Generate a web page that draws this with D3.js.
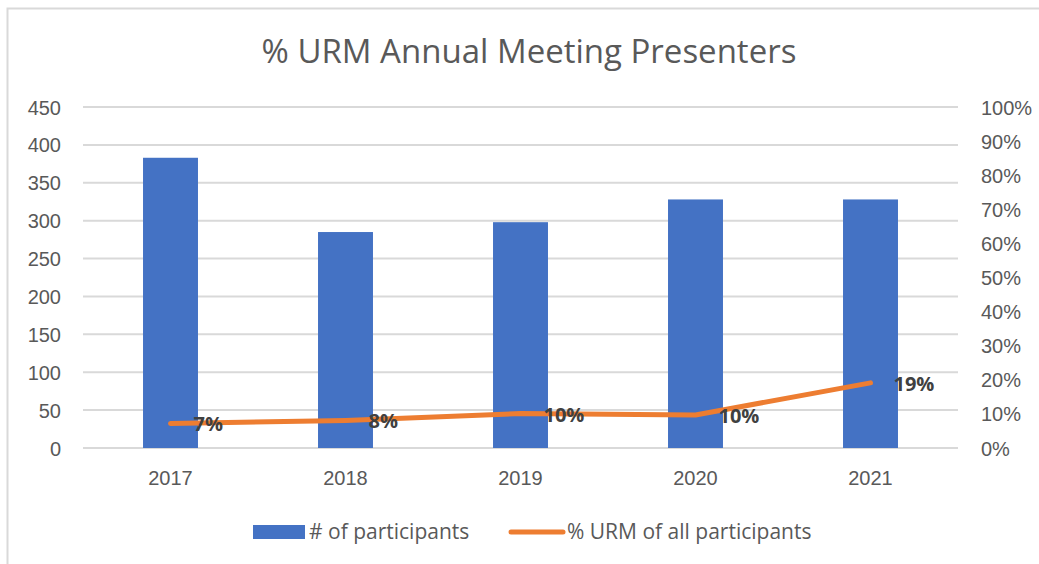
<!DOCTYPE html>
<html>
  <head>
    <meta charset="utf-8">
    <title>% URM Annual Meeting Presenters</title>
    <script src="https://cdn.jsdelivr.net/npm/d3@7"></script>
    <style>
      body { margin: 0; background: #fff; }
      svg { display: block; font-family: "Open Sans", "Noto Sans", sans-serif; }
      .axis text { fill: #595959; font-size: 20px; }
      .axis .domain { display: none; }
      .axis line { stroke: none; }
      .grid line { stroke: #d9d9d9; stroke-width: 2; }
      .label { fill: #404040; font-size: 20px; font-weight: bold; }
      .legend text { fill: #595959; font-size: 21px; }
    </style>
  </head>

  <body>
    <svg id="chart" width="1039" height="564"></svg>

    <script>
      // data
      years = ["2017", "2018", "2019", "2020", "2021"];
      participants = [383, 285, 298, 328, 328];
      urmShare = [0.072, 0.081, 0.101, 0.097, 0.191];
      urmLabels = ["7%", "8%", "10%", "10%", "19%"];
      leftTicks = [0, 50, 100, 150, 200, 250, 300, 350, 400, 450];
      rightTicks = [0, 0.1, 0.2, 0.3, 0.4, 0.5, 0.6, 0.7, 0.8, 0.9, 1];

      chart = d3.select("#chart");
      margin = { top: 107, right: 81, bottom: 116, left: 83 };
      width = 1039;
      height = 564;

      // outer border
      chart.append("rect")
        .attr("x", 7.5)
        .attr("y", 8.5)
        .attr("width", 1100)
        .attr("height", 700)
        .attr("fill", "none")
        .attr("stroke", "#d9d9d9")
        .attr("stroke-width", 2);

      chart.append("text")
        .attr("x", 529)
        .attr("y", 63)
        .attr("text-anchor", "middle")
        .attr("fill", "#595959")
        .style("font-size", "33px")
        .text("% URM Annual Meeting Presenters");

      x = d3.scaleBand()
        .domain(years)
        .range([margin.left, width - margin.right])
        .paddingInner(0.686)
        .paddingOuter(0.343);
      y = d3.scaleLinear()
        .domain([0, 450])
        .range([height - margin.bottom, margin.top]);
      y2 = d3.scaleLinear()
        .domain([0, 1])
        .range([height - margin.bottom, margin.top]);

      // gridlines
      chart.append("g")
        .attr("class", "grid")
        .selectAll("line")
          .data(leftTicks)
        .enter().append("line")
          .attr("x1", margin.left)
          .attr("x2", width - margin.right)
          .attr("y1", function(d) { return y(d); })
          .attr("y2", function(d) { return y(d); });

      // axes
      chart.append("g")
        .attr("class", "axis")
        .attr("transform", "translate(" + (margin.left - 22) + ", 0)")
        .call(d3.axisLeft(y).tickValues(leftTicks).tickSize(0).tickPadding(0))
        .selectAll("text")
          .attr("dy", "0.35em");
      chart.append("g")
        .attr("class", "axis")
        .attr("transform", "translate(" + (width - margin.right + 23) + ", 0)")
        .call(d3.axisRight(y2).tickValues(rightTicks).tickSize(0).tickPadding(0).tickFormat(d3.format(".0%")))
        .selectAll("text")
          .attr("dy", "0.35em");
      chart.append("g")
        .attr("class", "axis")
        .attr("transform", "translate(0, " + (height - margin.bottom + 19) + ")")
        .call(d3.axisBottom(x).tickSize(0).tickPadding(0))
        .selectAll("text")
          .attr("dy", "0.9em");

      // bars
      chart.append("g")
        .selectAll("rect")
          .data(participants)
        .enter().append("rect")
          .attr("x", function(d, i) { return x(years[i]); })
          .attr("width", x.bandwidth())
          .attr("y", function(d) { return y(d); })
          .attr("height", function(d) { return y(0) - y(d); })
          .attr("fill", "#4472c4");

      // line
      line = d3.line()
        .x(function(d, i) { return x(years[i]) + x.bandwidth() / 2; })
        .y(function(d) { return y2(d); });
      chart.append("path")
        .datum(urmShare)
        .attr("d", line)
        .attr("fill", "none")
        .attr("stroke", "#ed7d31")
        .attr("stroke-width", 5)
        .attr("stroke-linecap", "round")
        .attr("stroke-linejoin", "round");

      chart.append("g")
        .selectAll("text")
          .data(urmShare)
        .enter().append("text")
          .attr("class", "label")
          .attr("x", function(d, i) { return x(years[i]) + x.bandwidth() / 2 + 23; })
          .attr("y", function(d) { return y2(d); })
          .attr("dy", "0.4em")
          .text(function(d, i) { return urmLabels[i]; });

      // legend
      legend = chart.append("g").attr("class", "legend");
      legend.append("rect")
        .attr("x", 253)
        .attr("y", 525)
        .attr("width", 52)
        .attr("height", 14)
        .attr("fill", "#4472c4");
      legend.append("text")
        .attr("x", 309)
        .attr("y", 532)
        .attr("dy", "0.35em")
        .text("# of participants");
      legend.append("line")
        .attr("x1", 511)
        .attr("x2", 563)
        .attr("y1", 532)
        .attr("y2", 532)
        .attr("stroke", "#ed7d31")
        .attr("stroke-width", 5)
        .attr("stroke-linecap", "round");
      legend.append("text")
        .attr("x", 567)
        .attr("y", 532)
        .attr("dy", "0.35em")
        .text("% URM of all participants");
    </script>
  </body>
</html>
